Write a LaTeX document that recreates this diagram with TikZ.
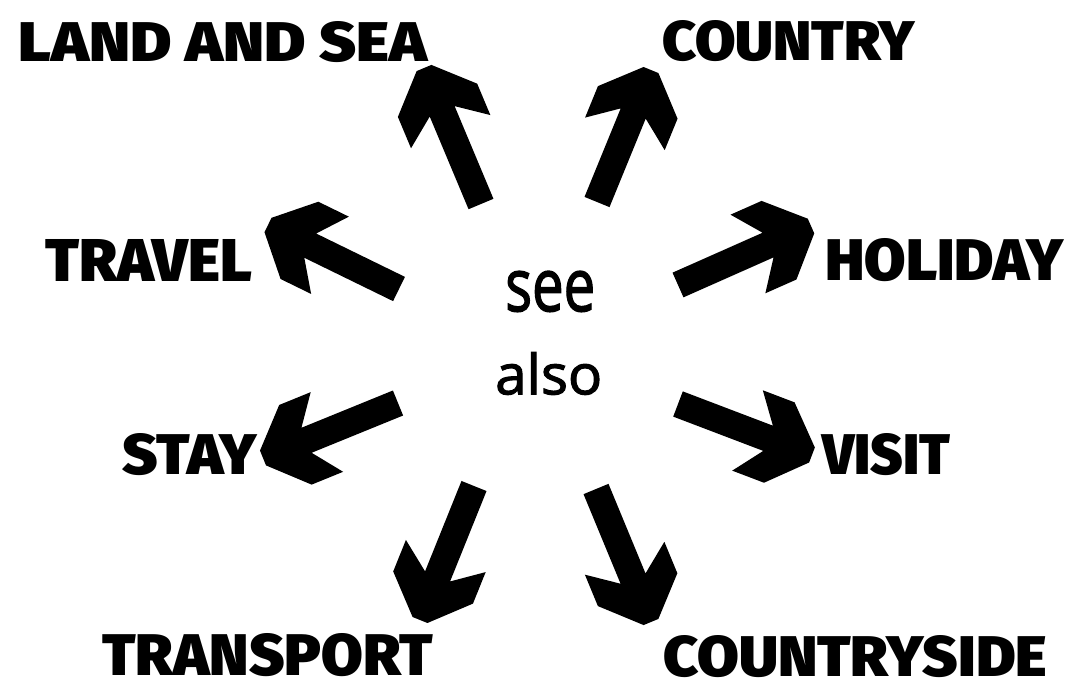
\documentclass[tikz,border=0pt]{standalone}
\usepackage{fontspec}
\usepackage{graphicx}
\usetikzlibrary{calc}
\IfFontExistsTF{Fira Sans Black}{\newfontfamily\heavy{Fira Sans Black}}{%
  \IfFontExistsTF{Lato Black}{\newfontfamily\heavy{Lato Black}}{%
    \newfontfamily\heavy{DejaVu Sans Bold}}}
\newfontfamily\lightsans{Open Sans}[FakeBold=2]
\tikzset{
  ar/.style={shift={(\p1)},rotate=\n1},
  lbl/.style={anchor=south west, inner sep=0pt, font=\heavy},
  mid/.style={anchor=south west, inner sep=0pt, font=\lightsans},
}
\newcommand\fatarrow[2]{%
  \fill[black] let \p1=(#1), \p2=(#2),
    \n1={atan2(\y2-\y1,\x2-\x1)}, \n2={veclen(\x2-\x1,\y2-\y1)} in
    ([ar]0,13.5) -- ([ar]{\n2-47},13.5) -- ([ar]{\n2-69},43) -- ([ar]{\n2-35},43)
    -- ([ar]\n2,8) -- ([ar]\n2,-8) -- ([ar]{\n2-35},-43) -- ([ar]{\n2-69},-43)
    -- ([ar]{\n2-47},-13.5) -- ([ar]0,-13.5) -- cycle;}
\begin{document}
\begin{tikzpicture}[x=1pt,y=-1pt]
\useasboundingbox (0,0) rectangle (1081,691);
% centre text
\node[mid] (see) at (505,312) {\resizebox{90pt}{40pt}{see}};
\node[mid] (also) at (495,395) {\resizebox{107pt}{42pt}{also}};
% labels
\node[lbl] (land) at (18,63) {\resizebox{409pt}{40pt}{LAND AND SEA}};
\node[lbl] (country) at (662,62) {\resizebox{253pt}{40pt}{COUNTRY}};
\node[lbl] (travel) at (45,282) {\resizebox{207pt}{42pt}{TRAVEL}};
\node[lbl] (holiday) at (825,282) {\resizebox{238pt}{42pt}{HOLIDAY}};
\node[lbl] (stay) at (122,476) {\resizebox{135pt}{41pt}{STAY}};
\node[lbl] (visit) at (822,476) {\resizebox{128pt}{41pt}{VISIT}};
\node[lbl] (transport) at (102,677) {\resizebox{331pt}{42pt}{TRANSPORT}};
\node[lbl] (countryside) at (663,678) {\resizebox{384pt}{41pt}{COUNTRYSIDE}};
% arrow ends
\coordinate (t1) at (481,204); \coordinate (h1) at (424,68);
\coordinate (t2) at (597,202); \coordinate (h2) at (651,70);
\coordinate (t3) at (399,289); \coordinate (h3) at (268,225);
\coordinate (t4) at (678,285); \coordinate (h4) at (811,226);
\coordinate (t5) at (398,403); \coordinate (h5) at (263,458);
\coordinate (t6) at (678,404); \coordinate (h6) at (812,455);
\coordinate (t7) at (474,486); \coordinate (h7) at (420,620);
\coordinate (t8) at (596,489); \coordinate (h8) at (651,622);
\fatarrow{t1}{h1}
\fatarrow{t2}{h2}
\fatarrow{t3}{h3}
\fatarrow{t4}{h4}
\fatarrow{t5}{h5}
\fatarrow{t6}{h6}
\fatarrow{t7}{h7}
\fatarrow{t8}{h8}
\end{tikzpicture}
\end{document}
